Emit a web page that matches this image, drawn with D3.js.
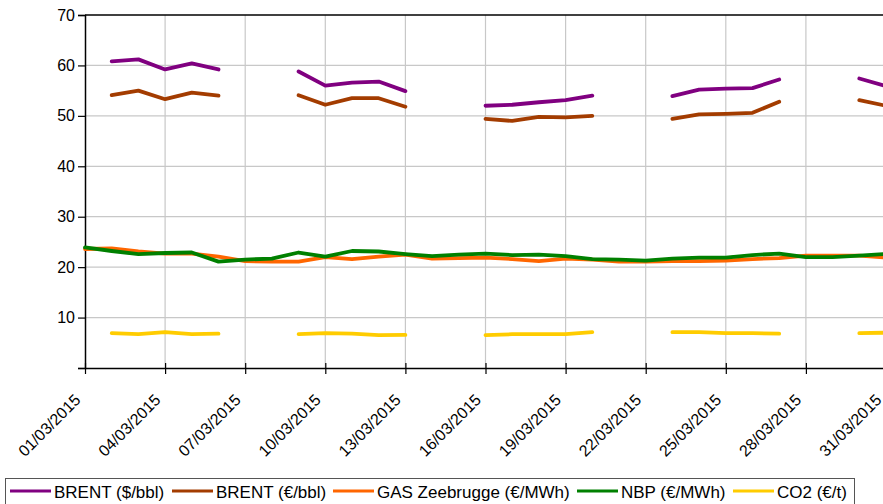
<!DOCTYPE html>
<html lang="en">
<head>
<meta charset="UTF-8" />
<title>Energy prices March 2015</title>
<script src="https://d3js.org/d3.v7.min.js"></script>
<style>
  body { margin: 0; background: #fff; font-family: "Liberation Sans", Arial, sans-serif; }
  svg { display: block; }
  .grid line { stroke: #c8c8c8; stroke-width: 1.2; }
  .tick text { font-family: "Liberation Sans", Arial, sans-serif; fill: #000; }
</style>
</head>
<body>
<svg width="883" height="504"></svg>
<script>
// days of March 2015, 1..31 (weekends empty for Brent and CO2)
const days = d3.range(1, 32);

const brentUsd = [null, 60.8, 61.2, 59.2, 60.4, 59.2, null, null, 58.8, 56.0, 56.6, 56.8, 54.9, null, null,
  52.0, 52.2, 52.7, 53.1, 54.0, null, null, 53.9, 55.2, 55.4, 55.5, 57.2, null, null, 57.4, 55.9];
const brentEur = [null, 54.1, 55.0, 53.3, 54.6, 54.0, null, null, 54.1, 52.2, 53.5, 53.5, 51.8, null, null,
  49.4, 49.0, 49.8, 49.7, 50.0, null, null, 49.4, 50.3, 50.4, 50.6, 52.8, null, null, 53.1, 52.0];
const gasZee = [23.6, 23.7, 23.1, 22.7, 22.7, 22.1, 21.2, 21.1, 21.1, 22.0, 21.6, 22.1, 22.5, 21.7, 21.8,
  21.9, 21.6, 21.2, 21.7, 21.5, 21.1, 21.1, 21.2, 21.2, 21.3, 21.6, 21.8, 22.3, 22.3, 22.3, 21.9];
const nbp = [23.9, 23.2, 22.6, 22.8, 22.9, 21.1, 21.5, 21.7, 22.9, 22.1, 23.2, 23.1, 22.6, 22.2, 22.5,
  22.7, 22.4, 22.5, 22.2, 21.6, 21.5, 21.3, 21.7, 21.9, 21.9, 22.4, 22.7, 22.0, 22.0, 22.3, 22.6];
const co2 = [null, 6.9, 6.7, 7.1, 6.7, 6.8, null, null, 6.7, 6.9, 6.8, 6.5, 6.55, null, null,
  6.5, 6.7, 6.7, 6.7, 7.1, null, null, 7.1, 7.1, 6.9, 6.9, 6.8, null, null, 6.9, 7.0];

const seriesNames = ["BRENT ($/bbl)", "BRENT (€/bbl)", "GAS Zeebrugge (€/MWh)", "NBP (€/MWh)", "CO2 (€/t)"];
const seriesColors = ["#800080", "#a33c00", "#ff6600", "#008000", "#ffcc00"];
const seriesValues = [brentUsd, brentEur, gasZee, nbp, co2];

const yTicks = [0, 10, 20, 30, 40, 50, 60, 70];
const xTickDays = [1, 4, 7, 10, 13, 16, 19, 22, 25, 28, 31];

const svg = d3.select("svg");
const plotLeft = 85, plotTop = 15, plotBottom = 368;

const date = d => new Date(Date.UTC(2015, 2, d));
const fmt = d3.utcFormat("%d/%m/%Y");

const x = d3.scaleUtc()
  .domain([date(1), date(32)])
  .range([plotLeft, plotLeft + 31 * 26.7]);
const y = d3.scaleLinear().domain([0, 70]).range([plotBottom, plotTop]);

// grid
const grid = svg.append("g").attr("class", "grid");
grid.selectAll("line.h").data(yTicks.slice(1, -1)).join("line")
  .attr("x1", plotLeft).attr("x2", 883)
  .attr("y1", d => y(d)).attr("y2", d => y(d));
grid.selectAll("line.v").data(xTickDays.slice(1)).join("line")
  .attr("x1", d => x(date(d))).attr("x2", d => x(date(d)))
  .attr("y1", plotTop).attr("y2", plotBottom);

// top frame
svg.append("line")
  .attr("x1", plotLeft).attr("x2", 883).attr("y1", plotTop).attr("y2", plotTop)
  .attr("stroke", "#000").attr("stroke-width", 1.5);

// y axis
const yAxis = svg.append("g")
  .attr("transform", `translate(${plotLeft},0)`)
  .call(d3.axisLeft(y).tickValues(yTicks).tickSize(7).tickPadding(3)
    .tickFormat(d => d === 0 ? "" : d));
yAxis.select(".domain").attr("stroke", "#000").attr("stroke-width", 1.5);
yAxis.selectAll(".tick line").attr("stroke", "#000").attr("stroke-width", 1.2);
yAxis.selectAll(".tick text").attr("font-size", 16);

// x axis
const xAxis = svg.append("g")
  .attr("transform", `translate(0,${plotBottom})`)
  .call(d3.axisBottom(x).tickValues(xTickDays.map(date)).tickSize(6).tickSizeOuter(0)
    .tickFormat(fmt));
xAxis.select(".domain").attr("stroke", "#000").attr("stroke-width", 1.5);
xAxis.selectAll(".tick line").attr("stroke", "#000").attr("stroke-width", 1.2).attr("y1", -5);
xAxis.selectAll(".tick text")
  .attr("font-size", 16)
  .attr("text-anchor", "end")
  .attr("dy", 0)
  .attr("y", 0)
  .attr("transform", "translate(-4,33) rotate(-45)");

// lines
const line = d3.line()
  .defined(d => d.v != null)
  .x(d => x(date(d.day)))
  .y(d => y(d.v));

svg.append("g").selectAll("path")
  .data(seriesValues.map((vals, i) => ({ i, pts: days.map((day, k) => ({ day, v: vals[k] })) })))
  .join("path")
  .attr("fill", "none")
  .attr("stroke", d => seriesColors[d.i])
  .attr("stroke-width", 3.8)
  .attr("stroke-linejoin", "round")
  .attr("stroke-linecap", "round")
  .attr("d", d => line(d.pts));

// legend
const legend = svg.append("g");
legend.append("rect")
  .attr("x", 5.5).attr("y", 478.5).attr("width", 849).attr("height", 40)
  .attr("fill", "#fff").attr("stroke", "#555").attr("stroke-width", 1);
const legendX = [10, 172, 333, 577, 733];
const item = legend.selectAll("g.item").data(seriesNames).join("g")
  .attr("transform", (d, i) => `translate(${legendX[i]},491)`);
item.append("line")
  .attr("x1", 0).attr("x2", 41).attr("y1", 0).attr("y2", 0)
  .attr("stroke", (d, i) => seriesColors[i]).attr("stroke-width", 3);
item.append("text")
  .attr("x", 44).attr("y", 7)
  .attr("font-size", 17)
  .text(d => d);
</script>
</body>
</html>
